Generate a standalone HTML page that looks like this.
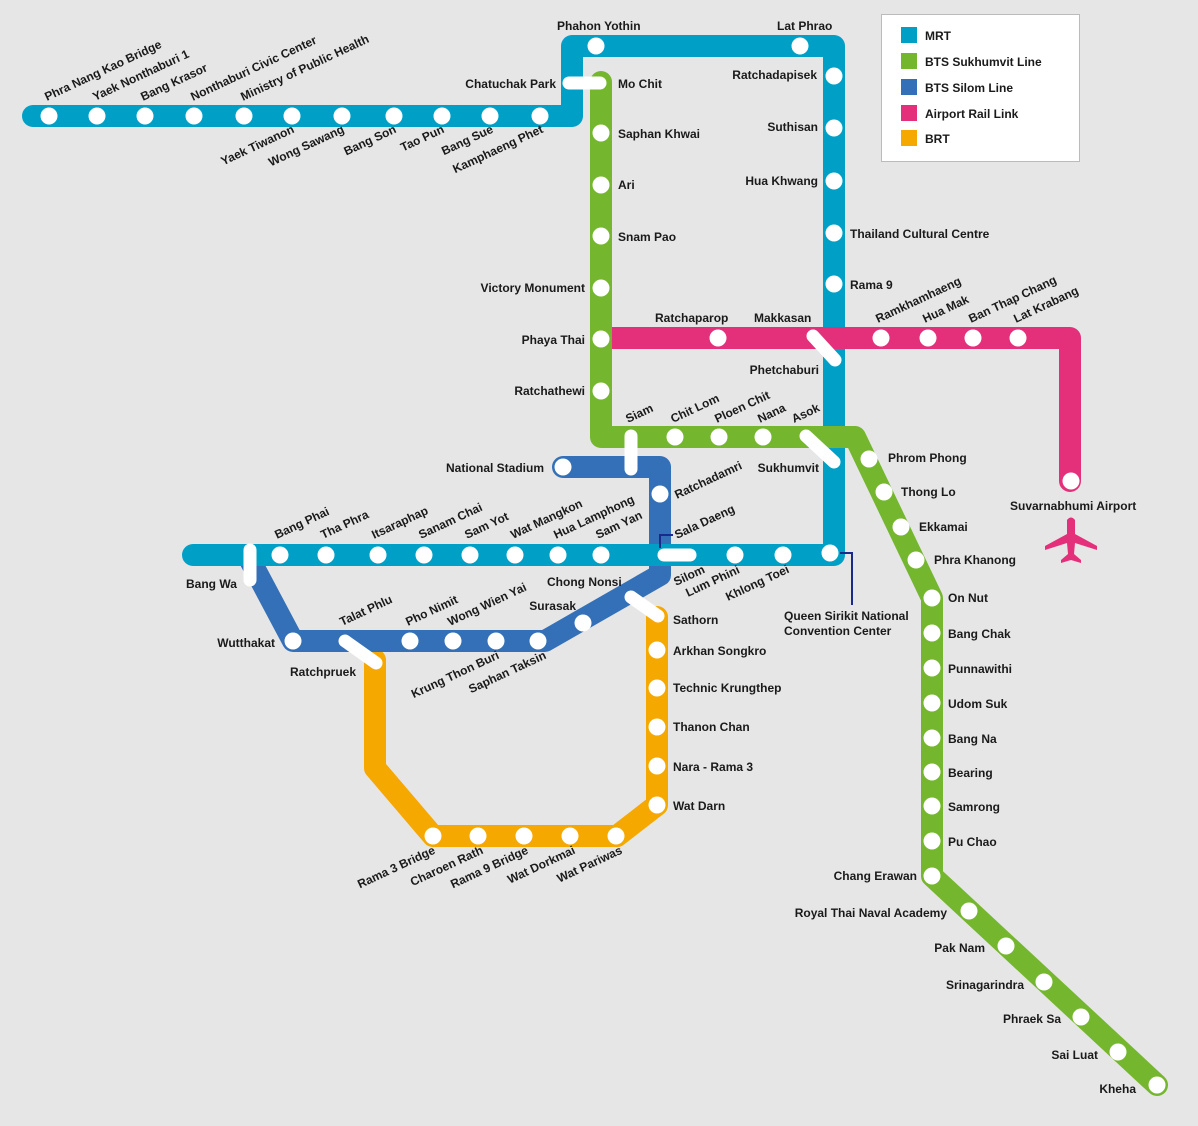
<!DOCTYPE html>
<html><head><meta charset="utf-8"><style>
html,body{margin:0;padding:0;background:#e6e6e6;}
svg{display:block;}
text{font-family:"Liberation Sans",sans-serif;font-weight:bold;font-size:12px;fill:#1a1a1a;}
</style></head><body>
<svg width="1198" height="1126" viewBox="0 0 1198 1126" xmlns="http://www.w3.org/2000/svg">
<rect width="1198" height="1126" fill="#e6e6e6"/>
<g fill="none" stroke-width="22" stroke-linecap="round" stroke-linejoin="round">
<!-- BRT -->
<path d="M657 617 V805 L617 836 H433 L375 768 V660" stroke="#f5a800"/>
<!-- Silom -->
<path d="M563 467 H660 V575 L545 641 H293 L250 560" stroke="#3370b7"/>
<!-- MRT -->
<path d="M33 116 H572 V46 H834 V555 H193" stroke="#00a0c6"/>
<!-- Airport -->
<path d="M612 338 H1070 V481" stroke="#e4307a"/>
<!-- Sukhumvit -->
<path d="M601 82 V437 H855 L932 598 V876 L1157 1085" stroke="#74b72e"/>
</g>
<!-- interchange bars -->
<g stroke="#fff" stroke-width="13" stroke-linecap="round" fill="none">
<line x1="569" y1="83" x2="600" y2="83"/>
<line x1="631" y1="436" x2="631" y2="469"/>
<line x1="813" y1="336" x2="835" y2="360"/>
<line x1="806" y1="436" x2="834" y2="462"/>
<line x1="664" y1="555" x2="690" y2="555"/>
<line x1="250" y1="550" x2="250" y2="580"/>
<line x1="345" y1="641" x2="376" y2="663"/>
<line x1="631" y1="597" x2="658" y2="616"/>
</g>
<!-- stations -->
<g fill="#fff">
<circle cx="49" cy="116" r="8.5"/><circle cx="97" cy="116" r="8.5"/><circle cx="145" cy="116" r="8.5"/><circle cx="194" cy="116" r="8.5"/><circle cx="244" cy="116" r="8.5"/><circle cx="292" cy="116" r="8.5"/><circle cx="342" cy="116" r="8.5"/><circle cx="394" cy="116" r="8.5"/><circle cx="442" cy="116" r="8.5"/><circle cx="490" cy="116" r="8.5"/><circle cx="540" cy="116" r="8.5"/>
<circle cx="596" cy="46" r="8.5"/><circle cx="800" cy="46" r="8.5"/>
<circle cx="834" cy="76" r="8.5"/><circle cx="834" cy="128" r="8.5"/><circle cx="834" cy="181" r="8.5"/><circle cx="834" cy="233" r="8.5"/><circle cx="834" cy="284" r="8.5"/>
<circle cx="280" cy="555" r="8.5"/><circle cx="326" cy="555" r="8.5"/><circle cx="378" cy="555" r="8.5"/><circle cx="424" cy="555" r="8.5"/><circle cx="470" cy="555" r="8.5"/><circle cx="515" cy="555" r="8.5"/><circle cx="558" cy="555" r="8.5"/><circle cx="601" cy="555" r="8.5"/><circle cx="735" cy="555" r="8.5"/><circle cx="783" cy="555" r="8.5"/><circle cx="830" cy="553" r="8.5"/>
<circle cx="601" cy="133" r="8.5"/><circle cx="601" cy="185" r="8.5"/><circle cx="601" cy="236" r="8.5"/><circle cx="601" cy="288" r="8.5"/><circle cx="601" cy="339" r="8.5"/><circle cx="601" cy="391" r="8.5"/>
<circle cx="675" cy="437" r="8.5"/><circle cx="719" cy="437" r="8.5"/><circle cx="763" cy="437" r="8.5"/>
<circle cx="718" cy="338" r="8.5"/><circle cx="881" cy="338" r="8.5"/><circle cx="928" cy="338" r="8.5"/><circle cx="973" cy="338" r="8.5"/><circle cx="1018" cy="338" r="8.5"/><circle cx="1071" cy="481" r="8.5"/>
<circle cx="563" cy="467" r="8.5"/><circle cx="660" cy="494" r="8.5"/><circle cx="583" cy="623" r="8.5"/><circle cx="538" cy="641" r="8.5"/><circle cx="496" cy="641" r="8.5"/><circle cx="453" cy="641" r="8.5"/><circle cx="410" cy="641" r="8.5"/><circle cx="293" cy="641" r="8.5"/>
<circle cx="657" cy="650" r="8.5"/><circle cx="657" cy="688" r="8.5"/><circle cx="657" cy="727" r="8.5"/><circle cx="657" cy="766" r="8.5"/><circle cx="657" cy="805" r="8.5"/>
<circle cx="433" cy="836" r="8.5"/><circle cx="478" cy="836" r="8.5"/><circle cx="524" cy="836" r="8.5"/><circle cx="570" cy="836" r="8.5"/><circle cx="616" cy="836" r="8.5"/>
<circle cx="869" cy="459" r="8.5"/><circle cx="884" cy="492" r="8.5"/><circle cx="901" cy="527" r="8.5"/><circle cx="916" cy="560" r="8.5"/>
<circle cx="932" cy="598" r="8.5"/><circle cx="932" cy="633" r="8.5"/><circle cx="932" cy="668" r="8.5"/><circle cx="932" cy="703" r="8.5"/><circle cx="932" cy="738" r="8.5"/><circle cx="932" cy="772" r="8.5"/><circle cx="932" cy="806" r="8.5"/><circle cx="932" cy="841" r="8.5"/><circle cx="932" cy="876" r="8.5"/>
<circle cx="969" cy="911" r="8.5"/><circle cx="1006" cy="946" r="8.5"/><circle cx="1044" cy="982" r="8.5"/><circle cx="1081" cy="1017" r="8.5"/><circle cx="1118" cy="1052" r="8.5"/><circle cx="1157" cy="1085" r="8.5"/>
</g>
<!-- navy connectors -->
<g stroke="#1a2a8a" stroke-width="2" fill="none">
<path d="M840 553 H852 V605"/>
<path d="M660 548 V535 H673"/>
</g>
<!-- airplane -->
<g fill="#e4307a" transform="translate(1071,540) rotate(0)">
<path d="M-4 -20 Q0 -25 4 -20 L4 -6 L26 6 L26 10 L4 3 L3 14 L10 20 L10 23 L0 20 L-10 23 L-10 20 L-3 14 L-4 3 L-26 10 L-26 6 L-4 -6 Z"/>
</g>
<!-- legend -->
<rect x="881.5" y="14.5" width="198" height="147" fill="#fff" stroke="#bbb"/>
<rect x="901" y="27" width="16" height="16" fill="#00a0c6"/>
<rect x="901" y="53" width="16" height="16" fill="#74b72e"/>
<rect x="901" y="79" width="16" height="16" fill="#3370b7"/>
<rect x="901" y="105" width="16" height="16" fill="#e4307a"/>
<rect x="901" y="130" width="16" height="16" fill="#f5a800"/>
<g style="font-size:13px">
<text x="925" y="40">MRT</text><text x="925" y="66">BTS Sukhumvit Line</text><text x="925" y="92">BTS Silom Line</text><text x="925" y="118">Airport Rail Link</text><text x="925" y="143">BRT</text>
</g>
<!-- horizontal labels -->
<g>
<text x="557" y="30">Phahon Yothin</text><text x="777" y="30">Lat Phrao</text>
<text x="556" y="88" text-anchor="end">Chatuchak Park</text><text x="618" y="88">Mo Chit</text>
<text x="817" y="79" text-anchor="end">Ratchadapisek</text><text x="818" y="131" text-anchor="end">Suthisan</text><text x="818" y="185" text-anchor="end">Hua Khwang</text>
<text x="850" y="238">Thailand Cultural Centre</text><text x="850" y="289">Rama 9</text>
<text x="618" y="138">Saphan Khwai</text><text x="618" y="189">Ari</text><text x="618" y="241">Snam Pao</text>
<text x="585" y="292" text-anchor="end">Victory Monument</text><text x="585" y="344" text-anchor="end">Phaya Thai</text><text x="585" y="395" text-anchor="end">Ratchathewi</text>
<text x="655" y="322">Ratchaparop</text><text x="754" y="322">Makkasan</text><text x="819" y="374" text-anchor="end">Phetchaburi</text>
<text x="1010" y="510">Suvarnabhumi Airport</text>
<text x="544" y="472" text-anchor="end">National Stadium</text><text x="819" y="472" text-anchor="end">Sukhumvit</text>
<text x="888" y="462">Phrom Phong</text><text x="901" y="496">Thong Lo</text><text x="919" y="531">Ekkamai</text><text x="934" y="564">Phra Khanong</text>
<text x="948" y="602">On Nut</text><text x="948" y="638">Bang Chak</text><text x="948" y="673">Punnawithi</text><text x="948" y="708">Udom Suk</text><text x="948" y="743">Bang Na</text><text x="948" y="777">Bearing</text><text x="948" y="811">Samrong</text><text x="948" y="846">Pu Chao</text>
<text x="917" y="880" text-anchor="end">Chang Erawan</text><text x="947" y="917" text-anchor="end">Royal Thai Naval Academy</text><text x="985" y="952" text-anchor="end">Pak Nam</text><text x="1024" y="989" text-anchor="end">Srinagarindra</text><text x="1061" y="1023" text-anchor="end">Phraek Sa</text><text x="1098" y="1059" text-anchor="end">Sai Luat</text><text x="1136" y="1093" text-anchor="end">Kheha</text>
<text x="784" y="620">Queen Sirikit National</text><text x="784" y="635">Convention Center</text>
<text x="186" y="588">Bang Wa</text><text x="275" y="647" text-anchor="end">Wutthakat</text><text x="290" y="676">Ratchpruek</text>
<text x="547" y="586">Chong Nonsi</text><text x="576" y="610" text-anchor="end">Surasak</text>
<text x="673" y="624">Sathorn</text><text x="673" y="655">Arkhan Songkro</text><text x="673" y="692">Technic Krungthep</text><text x="673" y="731">Thanon Chan</text><text x="673" y="771">Nara - Rama 3</text><text x="673" y="810">Wat Darn</text>
</g>
<!-- rotated labels above (anchor start) -->
<g>
<text transform="translate(47,101) rotate(-25)">Phra Nang Kao Bridge</text>
<text transform="translate(95,101) rotate(-25)">Yaek Nonthaburi 1</text>
<text transform="translate(143,101) rotate(-25)">Bang Krasor</text>
<text transform="translate(193,101) rotate(-25)">Nonthaburi Civic Center</text>
<text transform="translate(243,101) rotate(-25)">Ministry of Public Health</text>
<text transform="translate(878,323) rotate(-25)">Ramkhamhaeng</text>
<text transform="translate(925,323) rotate(-25)">Hua Mak</text>
<text transform="translate(971,323) rotate(-25)">Ban Thap Chang</text>
<text transform="translate(1016,323) rotate(-25)">Lat Krabang</text>
<text transform="translate(628,423) rotate(-25)">Siam</text>
<text transform="translate(673,423) rotate(-25)">Chit Lom</text>
<text transform="translate(717,423) rotate(-25)">Ploen Chit</text>
<text transform="translate(760,423) rotate(-25)">Nana</text>
<text transform="translate(794,423) rotate(-25)">Asok</text>
<text transform="translate(677,499) rotate(-25)">Ratchadamri</text>
<text transform="translate(677,539) rotate(-25)">Sala Daeng</text>
<text transform="translate(277,539) rotate(-25)">Bang Phai</text>
<text transform="translate(323,539) rotate(-25)">Tha Phra</text>
<text transform="translate(374,539) rotate(-25)">Itsaraphap</text>
<text transform="translate(421,539) rotate(-25)">Sanam Chai</text>
<text transform="translate(467,539) rotate(-25)">Sam Yot</text>
<text transform="translate(513,539) rotate(-25)">Wat Mangkon</text>
<text transform="translate(556,539) rotate(-25)">Hua Lamphong</text>
<text transform="translate(598,539) rotate(-25)">Sam Yan</text>
<text transform="translate(342,626) rotate(-25)">Talat Phlu</text>
<text transform="translate(408,626) rotate(-25)">Pho Nimit</text>
<text transform="translate(450,626) rotate(-25)">Wong Wien Yai</text>
<text transform="translate(676,586) rotate(-25)">Silom</text>
<text transform="translate(688,597) rotate(-25)">Lum Phini</text>
<text transform="translate(728,601) rotate(-25)">Khlong Toei</text>
</g>
<!-- rotated labels below (anchor end) -->
<g text-anchor="end">
<text transform="translate(295,132) rotate(-25)">Yaek Tiwanon</text>
<text transform="translate(345,132) rotate(-25)">Wong Sawang</text>
<text transform="translate(397,132) rotate(-25)">Bang Son</text>
<text transform="translate(445,132) rotate(-25)">Tao Pun</text>
<text transform="translate(494,132) rotate(-25)">Bang Sue</text>
<text transform="translate(544,132) rotate(-25)">Kamphaeng Phet</text>
<text transform="translate(500,658) rotate(-25)">Krung Thon Buri</text>
<text transform="translate(547,658) rotate(-25)">Saphan Taksin</text>
<text transform="translate(436,853) rotate(-25)">Rama 3 Bridge</text>
<text transform="translate(484,853) rotate(-25)">Charoen Rath</text>
<text transform="translate(529,853) rotate(-25)">Rama 9 Bridge</text>
<text transform="translate(576,853) rotate(-25)">Wat Dorkmai</text>
<text transform="translate(623,853) rotate(-25)">Wat Pariwas</text>
</g>
</svg>
</body></html>
